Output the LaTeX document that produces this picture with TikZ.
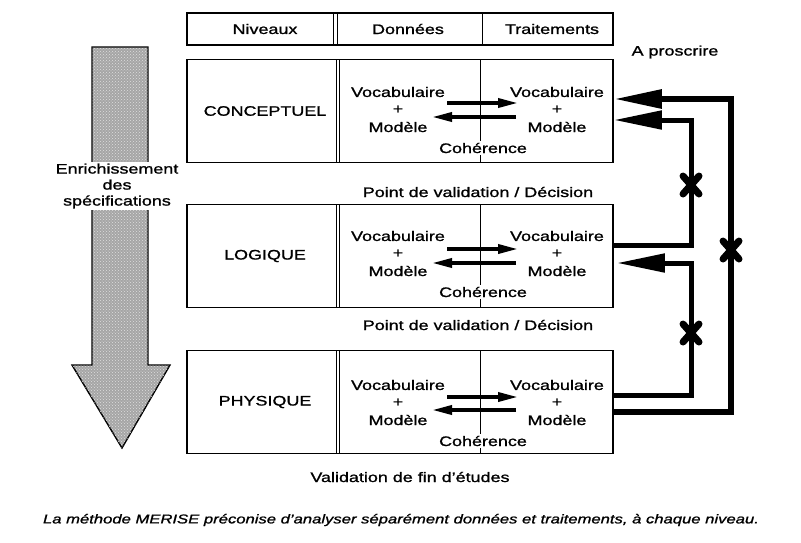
\documentclass[tikz,border=0pt]{standalone}
\usepackage{fontspec}
\setmainfont{Liberation Sans}[FakeStretch=1.3, FakeBold=1.2]
\usetikzlibrary{arrows.meta,patterns}

\tikzset{
  lvlbox/.style={draw, line width=1.8pt, minimum width=426pt, inner sep=0pt},
  txt/.style={font=\fontsize{13.8}{16}\selectfont, inner sep=0pt},
  coh/.style={txt, fill=white, inner sep=1.5pt},
  flow/.style={line width=3.5pt, -{Triangle[length=20pt,width=9pt]}},
  back/.style={line width=5pt, line join=miter, -{Triangle[length=48pt,width=18pt]}},
  forbid/.style={line width=7pt, line cap=round},
  divider/.style={line width=1pt},
}

\begin{document}
\begin{tikzpicture}[x=1pt,y=-1pt]
\useasboundingbox (0,0) rectangle (801,542);

% --- shaded "enrichment" arrow on the left
\filldraw[fill=gray!70, line width=1.4pt]
  (92,47) -- (148,47) -- (148,365) -- (170,365) -- (122,448) -- (72,365) -- (92,365) -- cycle;
\fill[pattern=crosshatch dots, pattern color=gray!25]
  (92,47) -- (148,47) -- (148,365) -- (170,365) -- (122,448) -- (72,365) -- (92,365) -- cycle;
\node[txt, fill=white, align=center, inner sep=2pt, text width=140pt] (enrich) at (117,186)
  {Enrichissement\\des\\spécifications};

% --- header row
\node[lvlbox, minimum height=32pt] (head) at (400,29) {};
\draw[divider] (333,13) -- (333,45);
\draw[divider] (337,13) -- (337,45);
\draw[divider] (482,13) -- (482,45);
\node[txt] (hniv) at (265,29) {Niveaux};
\node[txt] (hdon) at (408,29) {Données};
\node[txt] (htrt) at (552,29) {Traitements};
\node[txt] (prosc) at (675,52) {A proscrire};

% --- the three levels
\foreach \nm/\cy/\lab in {conc/111/CONCEPTUEL, logi/256/LOGIQUE, phys/402/PHYSIQUE}{
  \node[lvlbox, minimum height=103pt] (\nm) at (400,\cy) {};
  \draw[divider] (336,\cy-51.5) -- (336,\cy+51.5);
  \draw[divider] (339.5,\cy-51.5) -- (339.5,\cy+51.5);
  \draw[divider] (480,\cy-51.5) -- (480,\cy+51.5);
  \node[txt] (\nm-lab) at (265,\cy) {\lab};
}

% level contents: left column (data), right column (processing), coherence
\foreach \nm/\vy/\ay/\by in {conc/92/103/117, logi/236/249/263, phys/385/397/410}{
  \node[txt] (\nm-dv) at (398,\vy) {Vocabulaire};
  \node[txt] (\nm-dp) at (398,\vy+17.5) {+};
  \node[txt] (\nm-dm) at (398,\vy+35) {Modèle};
  \node[txt] (\nm-tv) at (557,\vy) {Vocabulaire};
  \node[txt] (\nm-tp) at (557,\vy+17.5) {+};
  \node[txt] (\nm-tm) at (557,\vy+35) {Modèle};
  \node[coh] (\nm-coh) at (483,\vy+56) {Cohérence};
  \coordinate (\nm-r0) at (447,\ay);
  \coordinate (\nm-r1) at (518,\ay);
  \coordinate (\nm-l0) at (516,\by);
  \coordinate (\nm-l1) at (432,\by);
  \draw[flow] (\nm-r0) -- (\nm-r1);
  \draw[flow] (\nm-l0) -- (\nm-l1);
}

\node[txt] (val1) at (478,192) {Point de validation / Décision};
\node[txt] (val2) at (478,325) {Point de validation / Décision};
\node[txt] (val3) at (410,477) {Validation de fin d'études};

% --- forbidden return paths on the right
\coordinate (oA) at (731,412);
\coordinate (oB) at (731,99);
\coordinate (iA) at (691,245);
\coordinate (iB) at (691,120);
\coordinate (jA) at (691,395);
\coordinate (jB) at (691,263);
\draw[back, line width=6pt] (phys.east |- oA) -- (oA) -- (oB) -- (conc.east |- oB);
\draw[back] (logi.east |- iA) -- (iA) -- (iB) -- (conc.east |- iB);
\draw[back] (phys.east |- jA) -- (jA) -- (jB) -- ([xshift=3pt]logi.east |- jB);

% crosses marking the paths as forbidden
\foreach \cx/\cyy in {691/185, 731/250, 691/333}{
  \draw[forbid] (\cx-8,\cyy-9) -- (\cx+8,\cyy+9);
  \draw[forbid] (\cx+8,\cyy-9) -- (\cx-8,\cyy+9);
}

% --- caption
\node[font=\fontsize{12.8}{15}\selectfont\itshape, inner sep=0pt] (caption) at (401,520)
  {La méthode MERISE préconise d'analyser séparément données et traitements, à chaque niveau.};
\end{tikzpicture}
\end{document}
